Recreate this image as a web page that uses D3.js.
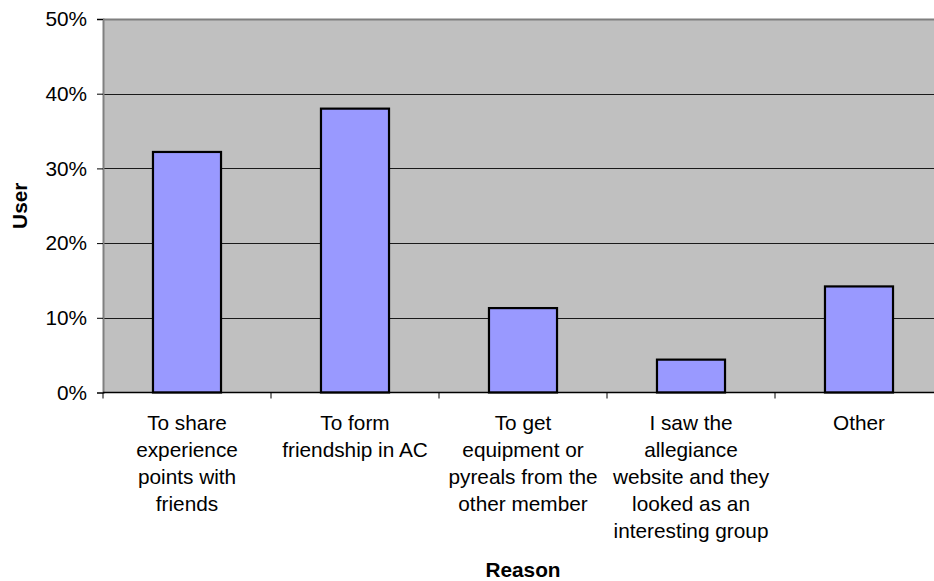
<!DOCTYPE html>
<html>
<head>
<meta charset="utf-8">
<script src="https://cdn.jsdelivr.net/npm/d3@7"></script>
<style>
  html, body { margin: 0; padding: 0; background: #ffffff; }
  svg { display: block; }
  text { font-family: "Liberation Sans", Arial, sans-serif; fill: #000; }
</style>
</head>
<body>
<svg id="chart" width="934" height="581"></svg>
<script>
const categories = [
  "To share experience points with friends",
  "To form friendship in AC",
  "To get equipment or pyreals from the other member",
  "I saw the allegiance website and they looked as an interesting group",
  "Other"
];
const categoryLines = [
  ["To share", "experience", "points with", "friends"],
  ["To form", "friendship in AC"],
  ["To get", "equipment or", "pyreals from the", "other member"],
  ["I saw the", "allegiance", "website and they", "looked as an", "interesting group"],
  ["Other"]
];
const values = [32.2, 38.0, 11.3, 4.4, 14.2];
const yTicks = [0, 10, 20, 30, 40, 50];
const yTitle = "User";
const xTitle = "Reason";

(function draw() {
const svg = d3.select("#chart");
const pL = 103, pR = 943, pT = 19, pB = 392.5;
const fs = 20.8;

const xBand = d3.scaleBand().domain(categories).range([pL, pR]);
const y = d3.scaleLinear().domain([0, 50]).range([pB, pT]);

// plot background
svg.append("rect").attr("x", pL).attr("y", pT).attr("width", pR - pL).attr("height", pB - pT)
  .attr("fill", "#c0c0c0");

// gridlines
svg.append("g").selectAll("line").data(yTicks.filter(t => t > 0 && t < 50)).join("line")
  .attr("x1", pL).attr("x2", pR)
  .attr("y1", d => Math.round(y(d)) + 0.5).attr("y2", d => Math.round(y(d)) + 0.5)
  .attr("stroke", "#1a1a1a").attr("stroke-width", 1);

// top border
svg.append("line").attr("x1", pL).attr("x2", pR).attr("y1", pT + 0.5).attr("y2", pT + 0.5)
  .attr("stroke", "#7f7f7f").attr("stroke-width", 2);

// bars
const bw = xBand.bandwidth() * 0.405;
svg.append("g").selectAll("rect").data(values).join("rect")
  .attr("x", (d, i) => xBand(categories[i]) + xBand.bandwidth() / 2 - bw / 2)
  .attr("y", d => y(d))
  .attr("width", bw)
  .attr("height", d => pB - y(d))
  .attr("fill", "#9999ff")
  .attr("stroke", "#000").attr("stroke-width", 2.2);

// y axis
const yAxis = d3.axisLeft(y).tickValues(yTicks).tickFormat(d => d + "%").tickSize(6).tickPadding(10);
const gy = svg.append("g").attr("transform", `translate(${pL},0)`).call(yAxis);
gy.select(".domain").attr("stroke", "#808080").attr("stroke-width", 2);
gy.selectAll(".tick line").attr("stroke", "#000");
gy.selectAll(".tick text").attr("font-size", fs).attr("font-family", "Liberation Sans, Arial, sans-serif").attr("fill", "#000");

// x axis line & ticks
svg.append("line").attr("x1", pL).attr("x2", pR).attr("y1", pB).attr("y2", pB)
  .attr("stroke", "#000").attr("stroke-width", 1.5);
const tickXs = categories.map(c => xBand(c)).concat([pR]);
svg.append("g").selectAll("line").data(tickXs).join("line")
  .attr("x1", d => d).attr("x2", d => d).attr("y1", pB).attr("y2", pB + 6)
  .attr("stroke", "#000").attr("stroke-width", 1);

// category labels
const lab = svg.append("g").selectAll("text").data(categoryLines).join("text")
  .attr("text-anchor", "middle").attr("font-size", fs)
  .attr("transform", (d, i) => `translate(${xBand(categories[i]) + xBand.bandwidth() / 2},429.5)`);
lab.selectAll("tspan").data(d => d).join("tspan")
  .attr("x", 0).attr("y", (d, i) => i * 27).text(d => d);

// axis titles
svg.append("text").attr("x", (pL + pR) / 2).attr("y", 577).attr("text-anchor", "middle")
  .attr("font-size", fs).attr("font-weight", "bold").text(xTitle);
svg.append("text").attr("transform", `translate(27,${(pT + pB) / 2}) rotate(-90)`)
  .attr("text-anchor", "middle").attr("font-size", fs).attr("font-weight", "bold").text(yTitle);
})();
</script>
</body>
</html>
